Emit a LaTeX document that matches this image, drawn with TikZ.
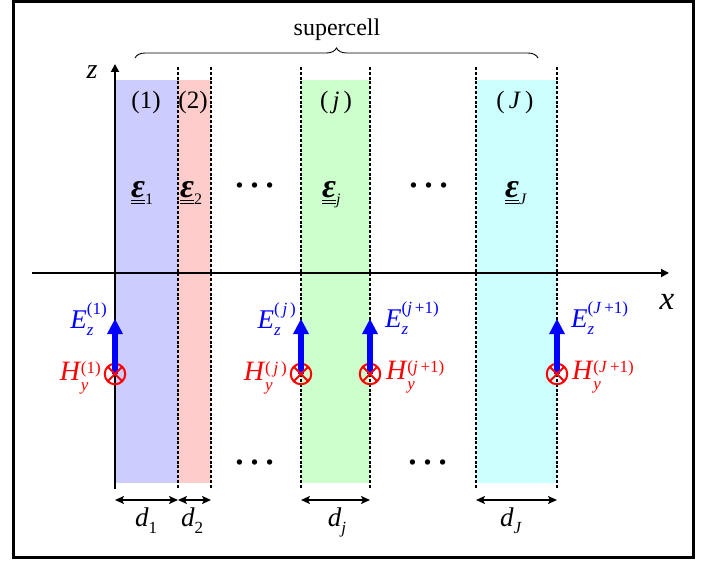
\documentclass[tikz,border=0pt]{standalone}
\usepackage{fontspec}
\setmainfont{Liberation Serif}
\usetikzlibrary{arrows.meta,decorations.pathreplacing}
\definecolor{layA}{RGB}{204,204,255}
\definecolor{layB}{RGB}{255,204,204}
\definecolor{layC}{RGB}{204,255,204}
\definecolor{layD}{RGB}{204,255,255}
\definecolor{eblue}{RGB}{0,0,255}
\definecolor{hred}{RGB}{255,0,0}
\newcommand{\myfs}[1]{\fontsize{#1}{#1}\selectfont}
\newcommand{\epsl}[1]{\vtop{\hbox{\myfs{34}\bfseries\itshape ε}\kern1.2pt\hrule height1.2pt\kern2.2pt\hrule height1.2pt}\raisebox{-7pt}{\myfs{16}#1}}
\newcommand{\labE}[1]{{\myfs{27}\itshape E}\rlap{\raisebox{-7pt}{\myfs{17}\itshape z}}\raisebox{14pt}{\myfs{17}#1}}
\newcommand{\labH}[1]{{\myfs{28}\itshape H}\kern1pt\rlap{\raisebox{-10pt}{\myfs{17}\itshape y}}\raisebox{7pt}{\myfs{17}#1}}
\newcommand{\labD}[1]{{\myfs{27}\itshape d}\raisebox{-7pt}{\myfs{17}#1}}
\begin{document}
\begin{tikzpicture}[x=1pt,y=-1pt,
  frameline/.style={line width=3pt},
  sepline/.style={line width=1.4pt, dash pattern=on 3pt off 1.8pt},
  axisline/.style={line width=1.8pt,-{Triangle[length=8pt,width=8pt]}},
  dimline/.style={line width=1.8pt,{Stealth[length=9pt,width=8pt,inset=2pt]}-{Stealth[length=9pt,width=8pt,inset=2pt]}},
  efield/.style={draw=eblue, line width=6.7pt, -{Triangle[length=15pt,width=16pt,line width=0pt]}},
  hfield/.style={circle, draw=hred, line width=2pt, minimum size=20.5pt, inner sep=0pt, outer sep=0pt},
  hcross/.style={draw=hred, line width=2pt},
  elabel/.style={text=eblue, inner sep=0pt},
  hlabel/.style={text=hred, inner sep=0pt},
  txt/.style={inner sep=0pt},
  dotsnode/.style={inner sep=0pt, font=\myfs{45}, anchor=base},
]
\useasboundingbox (0,0) rectangle (709,561);
% layers
\fill[layA] (115,80) rectangle (178,483);
\fill[layB] (178,80) rectangle (211,483);
\fill[layC] (301,80) rectangle (370,483);
\fill[layD] (476,80) rectangle (557,483);
% separators
\foreach \xx/\nm in {178/s1,211/s2,301/s3,370/s4,476/s5,557/s6}{
  \coordinate (\nm t) at (\xx,67);
  \coordinate (\nm b) at (\xx,489);
  \draw[sepline] (\nm t) -- (\nm b);
}
% axes
\coordinate (zb) at (115,489);
\coordinate (zt) at (115,64);
\coordinate (xl) at (32,273);
\coordinate (xr) at (669,273);
\draw[axisline] (zb) -- (zt);
\draw[axisline] (xl) -- (xr);
\node[txt, font=\myfs{28}\itshape] (zlab) at (92,72) {z};
\node[txt, font=\myfs{33}\itshape] (xlab) at (667,302) {x};
% brace
\coordinate (brl) at (135,58);
\coordinate (brr) at (538,58);
\draw[line width=0.9pt, decorate, decoration={brace, amplitude=10pt}] (brl) -- (brr);
\node[txt, font=\myfs{24}, anchor=base] (sc) at (337,36) {supercell};
% layer labels
\node[txt, font=\myfs{25}] (l1) at (146,102) {(1)};
\node[txt, font=\myfs{25}] (l2) at (193,102) {(2)};
\node[txt, font=\myfs{25}] (lj) at (336,102) {(\,\textit{j}\,)};
\node[txt, font=\myfs{25}] (lJ) at (515,102) {(\,\textit{J}\,)};
% permittivities
\node[txt, anchor=base west] (ep1) at (131,198) {\epsl{1}};
\node[txt, anchor=base west] (ep2) at (180,198) {\epsl{2}};
\node[txt, anchor=base west] (epj) at (322,198) {\epsl{\textit{j}}};
\node[txt, anchor=base west] (epJ) at (505,198) {\epsl{\textit{J}}};
% dots
\node[dotsnode] (dt1) at (255,187.5) {…};
\node[dotsnode] (dt2) at (429,187.5) {…};
\node[dotsnode] (dt3) at (255,464.5) {…};
\node[dotsnode] (dt4) at (428,464.5) {…};
% fields
\foreach \xx/\nm in {115/f1,301/f2,370/f3,557/f4}{
  \coordinate (\nm tip) at (\xx,319);
  \node[hfield] (\nm) at (\xx,374) {};
  \draw[efield] (\nm.center) -- (\nm tip);
  \draw[hcross] (\nm.45) -- (\nm.225) (\nm.135) -- (\nm.315);
}
\node[elabel, anchor=base east] (e1) at (107,328) {\labE{(1)}};
\node[hlabel, anchor=base east] (h1) at (101,380) {\labH{(1)}};
\node[elabel, anchor=base east] (e2) at (296,328) {\labE{(\,\textit{j}\,)}};
\node[hlabel, anchor=base east] (h2) at (287,380) {\labH{(\,\textit{j}\,)}};
\node[elabel, anchor=base west] (e3) at (385,327) {\labE{(\textit{j}\,+1)}};
\node[hlabel, anchor=base west] (h3) at (386,379) {\labH{(\textit{j}\,+1)}};
\node[elabel, anchor=base west] (e4) at (571,327) {\labE{(\textit{J}\,+1)}};
\node[hlabel, anchor=base west] (h4) at (572,379) {\labH{(\textit{J}\,+1)}};
% dimensions
\foreach \xa/\xb/\nm in {115/178/d1,178/211/d2,301/370/d3,476/557/d4}{
  \coordinate (\nm l) at (\xa,500);
  \coordinate (\nm r) at (\xb,500);
  \draw[dimline] (\nm l) -- (\nm r);
}
\node[txt, anchor=base] (dl1) at (146,526) {\labD{1}};
\node[txt, anchor=base] (dl2) at (192,526) {\labD{2}};
\node[txt, anchor=base] (dl3) at (337,526) {\labD{\textit{j}}};
\node[txt, anchor=base] (dl4) at (511,526) {\labD{\textit{J}}};
% frame
\coordinate (fa) at (13,1.5);
\coordinate (fb) at (693.5,557.5);
\draw[frameline] (fa) rectangle (fb);
\end{tikzpicture}
\end{document}
